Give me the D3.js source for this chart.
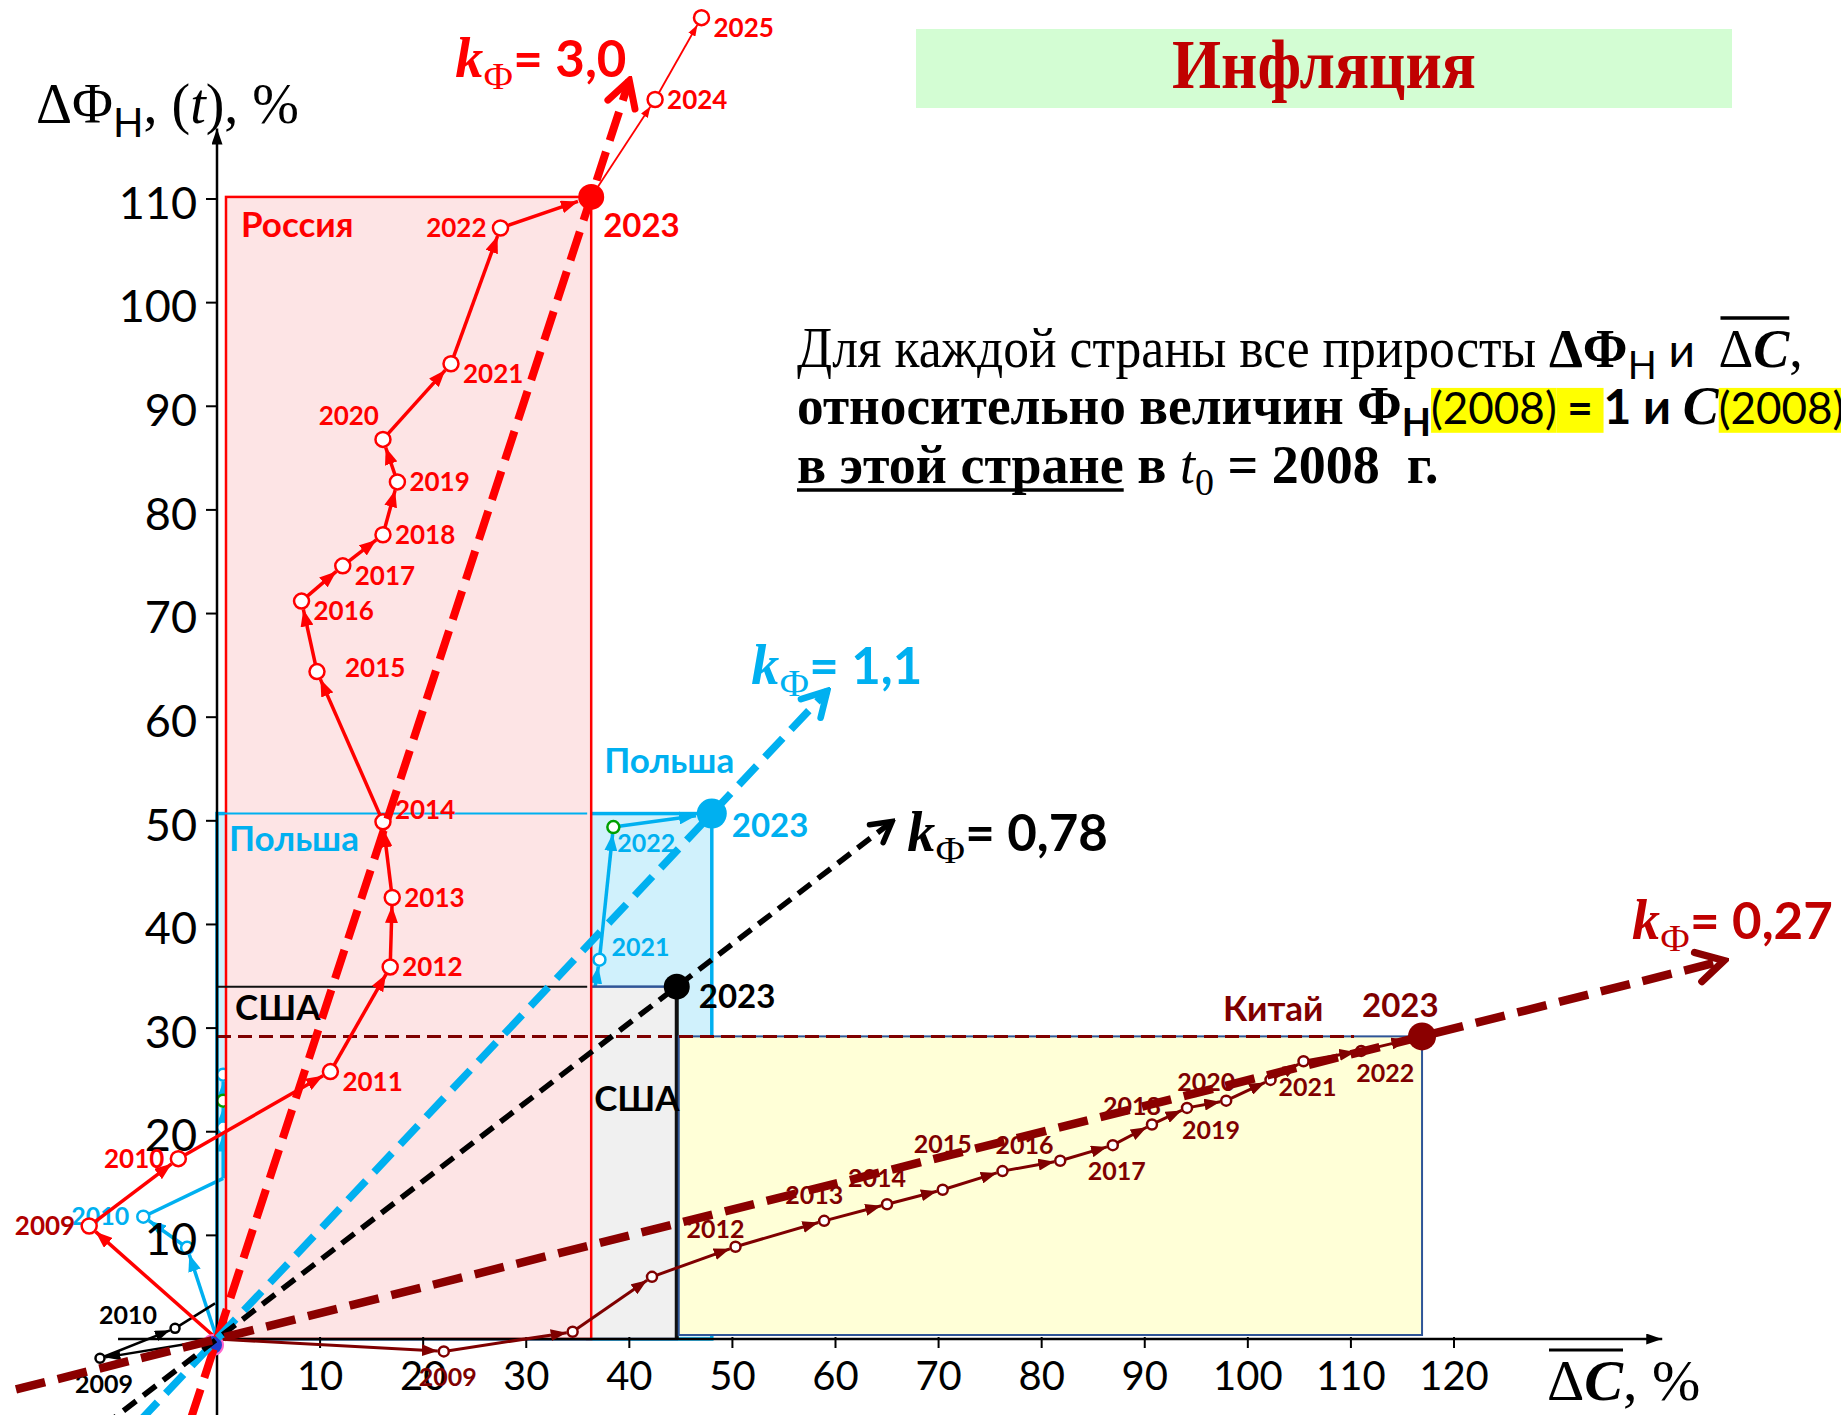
<!DOCTYPE html>
<html>
<head>
<meta charset="utf-8">
<script src="https://cdn.jsdelivr.net/npm/d3@7"></script>
<style>
html, body { margin: 0; padding: 0; background: #fff; }
svg { display: block; }
text { white-space: pre; }
</style>
</head>
<body>
<svg id="chart" width="1841" height="1415"></svg>
<script>
//========================
//   Data
//========================
var xTicks = [10, 20, 30, 40, 50, 60, 70, 80, 90, 100, 110, 120];
var yTicks = [10, 20, 30, 40, 50, 60, 70, 80, 90, 100, 110];

// Russia (null label = no marker, "" = marker without text)
var russiaLabels = [null, "2009", "2010", "2011", "2012", "2013", "2014", "2015", "2016", "2017", "2018", "2019", "2020", "2021", "2022", "2023", "2024", "2025"];
var russiaDC = [0, -12.4, -3.75, 11.0, 16.8, 17.0, 16.1, 9.7, 8.2, 12.2, 16.1, 17.5, 16.1, 22.7, 27.5, 36.3, 42.5, 47.0];
var russiaDF = [0, 10.9, 17.4, 25.8, 35.9, 42.6, 49.9, 64.4, 71.2, 74.6, 77.6, 82.7, 86.8, 94.1, 107.2, 110.2, 119.6, 127.5];

// Poland
var polandLabels = [null, "", "2010", null, "", "", "", null, "2021", "2022", "2023"];
var polandDC = [0, -2.9, -7.15, 0.6, 0.6, 0.6, 0.6, 36.2, 37.1, 38.45, 48.0];
var polandDF = [0, 8.8, 11.8, 15.5, 20.4, 23.0, 25.5, 31.0, 36.6, 49.4, 50.7];

// USA
var usLabels = [null, "2009", "2010", null, "2023"];
var usDC = [0, -11.35, -4.07, -0.19, 44.6];
var usDF = [0, -1.86, 1.03, 3.44, 34.0];

// China
var chinaLabels = [null, "2009", "", "", "2012", "2013", "2014", "2015", "2016", "", "2017", "2018", "2019", "2020", "", "2021", "2022", "2023"];
var chinaDC = [0, 22.0, 34.5, 42.2, 50.3, 58.9, 65.0, 70.4, 76.2, 81.8, 86.9, 90.7, 94.1, 97.9, 102.2, 105.4, 111.0, 116.9];
var chinaDF = [0, -1.2, 0.7, 6.0, 8.9, 11.4, 13.0, 14.4, 16.2, 17.2, 18.7, 20.7, 22.3, 23.0, 25.0, 26.8, 27.8, 29.2];

// k-factor labels and extent of the trend lines (in ΔC units)
var kLabels = ["= 3,0", "= 1,1", "= 0,78", "= 0,27"];
var russiaTrend = [-2.5, 40.0];
var polandTrend = [-7.5, 59.2];
var usTrend = [-11, 65.5];
var chinaTrend = [-19.5, 146.2];

//========================
//   Layout / styles
//========================
var russiaPlace = ["", "l", "l", "rb", "r", "r", "rt", "rr", "rb", "rb", "r", "r", "lt", "rb", "l", "c23r", "r", "rb"];
var polandPlace = ["", "", "l", "", "", "", "", "", "rt", "bs", "c23p"];
var usPlace = ["", "b", "lu", "", "c23u"];
var chinaPlace = ["", "b", "", "", "al", "a", "a", "aa", "ar", "", "b", "al", "br", "al", "", "b", "br", "c23c"];
var polandGreenIdx = [5, 9];
var russiaDarkIdx = [1];

//label offsets: [dx, dy(centre), anchor]
var place = {
  r: [12, 0, "start"], rb: [12, 10, "start"], rt: [12, -12, "start"], rr: [28, -4, "start"],
  l: [-14, 0, "end"], lt: [-4, -24, "end"], lu: [-18, -13, "end"],
  a: [-10, -26, "middle"], aa: [0, -46, "middle"], ar: [22, -26, "middle"], al: [-20, -18, "middle"],
  b: [4, 26, "middle"], br: [24, 22, "middle"], bs: [4, 16, "start"],
  c23r: [12, 29, "start"], c23p: [20, 12, "start"], c23u: [22, 10, "start"], c23c: [-60, -31, "start"]
};

var RED = "#ff0000", CYAN = "#00b0f0", BLACK = "#000000", MAROON = "#7f0000", KMAROON = "#8b0000";
var LABEL_FONT = "Lato, 'Open Sans', sans-serif";
var SERIF = "'Liberation Serif', 'Times New Roman', serif";

var svg = d3.select("#chart");
var defs = svg.append("defs");

//Scales
var x = d3.scaleLinear().domain([0, 120]).range([217, 1454]);
var y = d3.scaleLinear().domain([0, 110]).range([1339, 199]);

//========================
//   Markers
//========================
function triMarker(id, color, len, wid) {
  defs.append("marker").attr("id", id)
    .attr("viewBox", "0 0 10 10").attr("refX", 10).attr("refY", 5)
    .attr("markerUnits", "userSpaceOnUse")
    .attr("markerWidth", len).attr("markerHeight", wid)
    .attr("preserveAspectRatio", "none")
    .attr("orient", "auto")
    .append("path").attr("d", "M0,0 L10,5 L0,10 Z").attr("fill", color);
}
function chevMarker(id, color, size) {
  defs.append("marker").attr("id", id)
    .attr("viewBox", "0 0 12 12").attr("refX", 10.5).attr("refY", 6)
    .attr("markerUnits", "userSpaceOnUse")
    .attr("markerWidth", size).attr("markerHeight", size)
    .attr("orient", "auto")
    .append("path").attr("d", "M2.5,1.5 L10.5,6 L2.5,10.5")
    .attr("fill", "none").attr("stroke", color).attr("stroke-width", 2.2)
    .attr("stroke-linecap", "round").attr("stroke-linejoin", "miter");
}
triMarker("arrRed", RED, 17, 13);
triMarker("arrRedS", RED, 11, 8);
triMarker("arrCyan", CYAN, 17, 13);
triMarker("arrBlack", BLACK, 15, 11);
triMarker("arrMaroon", MAROON, 16, 12);
triMarker("axisArr", BLACK, 16, 11);
chevMarker("chRed", RED, 38);
chevMarker("chCyan", CYAN, 36);
chevMarker("chBlack", BLACK, 30);
chevMarker("chMaroon", KMAROON, 40);

//========================
//   Helpers
//========================
function series(dc, df, labels) {
  return dc.map(function (v, i) {
    return { dc: v, df: df[i], label: labels[i], px: x(v), py: y(df[i]) };
  });
}

//text made of several runs, laid out left to right
function runs(g, x0, y0, parts) {
  var cx = x0;
  parts.forEach(function (p) {
    var t = g.append("text")
      .attr("x", cx).attr("y", y0 + (p.dy || 0))
      .attr("font-family", p.font || SERIF)
      .attr("font-size", p.size)
      .attr("font-weight", p.bold ? "bold" : "normal")
      .attr("font-style", p.italic ? "italic" : "normal")
      .attr("fill", p.fill || "#000")
      .text(p.t);
    if (p.len) t.attr("textLength", p.len).attr("lengthAdjust", "spacingAndGlyphs");
    var w = p.len || t.node().getComputedTextLength();
    if (p.hl) {
      g.insert("rect", function () { return t.node(); })
        .attr("x", cx).attr("y", y0 - p.size * 0.82)
        .attr("width", w).attr("height", p.size * 1.02)
        .attr("fill", p.hl);
    }
    if (p.under) {
      g.append("line").attr("x1", cx).attr("x2", cx + w)
        .attr("y1", y0 + 7).attr("y2", y0 + 7)
        .attr("stroke", p.fill || "#000").attr("stroke-width", 3.5);
    }
    p.x0 = cx; p.w = w;
    cx += w;
  });
  return parts;
}
function overline(g, a, b, yy, w) {
  g.append("line").attr("x1", a.x0 + 2).attr("x2", b.x0 + b.w)
    .attr("y1", yy).attr("y2", yy).attr("stroke", "#000").attr("stroke-width", w);
}

function drawPath(g, pts, o) {
  var skip = o.skip || [];
  for (var i = 0; i < pts.length - 1; i++) {
    if (skip.indexOf(i) >= 0) continue;
    var a = pts[i], b = pts[i + 1];
    var dx = b.px - a.px, dy = b.py - a.py, len = Math.sqrt(dx * dx + dy * dy);
    var rEnd = b.label === null ? 0 : (b.label === "2023" ? o.bigR : o.r) + 1;
    var k = (len - rEnd) / len;
    var thin = o.thinAfter && +b.label > o.thinAfter;
    var seg = g.append("line")
      .attr("x1", a.px).attr("y1", a.py)
      .attr("x2", a.px + dx * k).attr("y2", a.py + dy * k)
      .attr("stroke", o.color)
      .attr("stroke-width", thin ? 1.8 : o.width);
    if (b.label !== null) seg.attr("marker-end", "url(#" + (thin ? o.markerThin : o.marker) + ")");
  }
  pts.forEach(function (p, i) {
    if (p.label === null || p.label === "2023") return;
    g.append("circle").attr("cx", p.px).attr("cy", p.py).attr("r", o.r)
      .attr("fill", "#fff")
      .attr("stroke", (o.green && o.green.indexOf(i) >= 0) ? "#00a000" : o.color)
      .attr("stroke-width", 2.5);
    if (p.label !== "") {
      var pl = place[o.place[i]];
      var dark = o.dark && o.dark.indexOf(i) >= 0;
      g.append("text")
        .attr("x", p.px + pl[0]).attr("y", p.py + pl[1] + o.fontSize * 0.35)
        .attr("text-anchor", pl[2])
        .attr("font-family", LABEL_FONT).attr("font-weight", "bold")
        .attr("font-size", o.fontSize).attr("fill", dark ? "#b00000" : (o.labelColor || o.color))
        .text(p.label);
    }
  });
}

function drawEnd(g, pts, o) {
  pts.forEach(function (p, i) {
    if (p.label !== "2023") return;
    g.append("circle").attr("cx", p.px).attr("cy", p.py).attr("r", o.bigR).attr("fill", o.color);
    var pl = place[o.place[i]];
    g.append("text")
      .attr("x", p.px + pl[0]).attr("y", p.py + pl[1] + 33 * 0.35)
      .attr("text-anchor", pl[2])
      .attr("font-family", LABEL_FONT).attr("font-weight", "bold")
      .attr("font-size", 33).attr("fill", o.labelColor || o.color)
      .text(p.label);
  });
}

function trend(g, slope, range, color, width, dash, marker) {
  g.append("line")
    .attr("x1", x(range[0])).attr("y1", y(range[0] * slope))
    .attr("x2", x(range[1])).attr("y2", y(range[1] * slope))
    .attr("stroke", color).attr("stroke-width", width)
    .attr("stroke-dasharray", dash)
    .attr("marker-end", "url(#" + marker + ")");
  return [x(range[1]), y(range[1] * slope)];
}

function kLabel(g, tip, off, text, color) {
  runs(g, tip[0] + off[0], tip[1] + off[1], [
    { t: "k", size: 56, bold: true, italic: true, fill: color },
    { t: "Ф", size: 38, dy: 12, fill: color },
    { t: text, size: 51, bold: true, font: LABEL_FONT, fill: color }
  ]);
}

var russia = series(russiaDC, russiaDF, russiaLabels);
var poland = series(polandDC, polandDF, polandLabels);
var usa = series(usDC, usDF, usLabels);
var china = series(chinaDC, chinaDF, chinaLabels);
var ru23 = russia[15], pl23 = poland[10], us23 = usa[4], cn23 = china[17];

//========================
//   Title and note
//========================
svg.append("rect").attr("x", 916).attr("y", 29).attr("width", 816).attr("height", 79).attr("fill", "#d3fdd3");
svg.append("text").attr("x", 1324).attr("y", 88).attr("text-anchor", "middle")
  .attr("font-family", SERIF).attr("font-weight", "bold").attr("font-size", 70)
  .attr("fill", "#c00000")
  .attr("textLength", 304).attr("lengthAdjust", "spacingAndGlyphs")
  .text("Инфляция");

var note = svg.append("g");
var l1 = runs(note, 797, 367, [
  { t: "Для каждой страны все приросты ", size: 56, len: 752 },
  { t: "ΔΦ", size: 54, bold: true },
  { t: "Н", size: 38, dy: 12, font: LABEL_FONT },
  { t: " и  ", size: 46, font: LABEL_FONT },
  { t: "Δ", size: 54 },
  { t: "C", size: 54, bold: true, italic: true },
  { t: ",", size: 54 }
]);
overline(note, l1[4], l1[5], 367 - 49, 3.5);
runs(note, 797, 424, [
  { t: "относительно величин ", size: 54, bold: true, len: 560 },
  { t: "Φ", size: 54, bold: true },
  { t: "Н", size: 38, dy: 12, font: LABEL_FONT, bold: true },
  { t: "(2008)", size: 44, font: LABEL_FONT, hl: "#ffff00" },
  { t: " = ", size: 44, font: LABEL_FONT, bold: true, hl: "#ffff00" },
  { t: "1 и ", size: 48, font: LABEL_FONT, bold: true },
  { t: "C", size: 54, bold: true, italic: true },
  { t: "(2008)", size: 44, font: LABEL_FONT, hl: "#ffff00" }
]);
runs(note, 797, 483, [
  { t: "в этой стране", size: 54, bold: true, under: true },
  { t: " в ", size: 54, bold: true },
  { t: "t", size: 54, italic: true },
  { t: "0", size: 38, dy: 12 },
  { t: " = 2008  г.", size: 54, bold: true }
]);

//========================
//   Country boxes
//========================
var boxes = svg.append("g");
// Poland
boxes.append("rect").attr("x", x(0)).attr("y", pl23.py)
  .attr("width", pl23.px - x(0)).attr("height", y(0) - pl23.py)
  .attr("fill", "#d0f1fc").attr("stroke", CYAN).attr("stroke-width", 3.5);

var pathsUnder = svg.append("g");
drawPath(pathsUnder, poland, { color: CYAN, width: 3.5, r: 6, bigR: 15, marker: "arrCyan", place: polandPlace, fontSize: 25, green: polandGreenIdx });

// USA
boxes = svg.append("g");
boxes.append("rect").attr("x", ru23.px - 4).attr("y", us23.py)
  .attr("width", us23.px - ru23.px + 4).attr("height", y(0) - us23.py)
  .attr("fill", "#f0f0f0").attr("stroke", "#2f5597").attr("stroke-width", 2.5);
boxes.append("line").attr("x1", us23.px).attr("x2", us23.px).attr("y1", us23.py).attr("y2", y(0))
  .attr("stroke", "#111").attr("stroke-width", 4);
// China
boxes.append("rect").attr("x", us23.px + 2).attr("y", cn23.py)
  .attr("width", cn23.px - us23.px - 2).attr("height", y(0) - cn23.py - 4)
  .attr("fill", "#ffffd7").attr("stroke", "#2f5597").attr("stroke-width", 2);
// Russia
boxes.append("rect").attr("x", x(0) + 9).attr("y", ru23.py)
  .attr("width", ru23.px - x(0) - 9).attr("height", y(0) - ru23.py)
  .attr("fill", "#fde4e5").attr("stroke", RED).attr("stroke-width", 2.5);
// Tops of Poland and USA boxes, seen through
boxes.append("line").attr("x1", x(0)).attr("x2", ru23.px - 4).attr("y1", pl23.py).attr("y2", pl23.py)
  .attr("stroke", CYAN).attr("stroke-width", 2);
boxes.append("line").attr("x1", x(0)).attr("x2", ru23.px - 4).attr("y1", us23.py).attr("y2", us23.py)
  .attr("stroke", "#111").attr("stroke-width", 2);
// China level
boxes.append("line").attr("x1", x(0)).attr("x2", x(110.3)).attr("y1", cn23.py).attr("y2", cn23.py)
  .attr("stroke", MAROON).attr("stroke-width", 3).attr("stroke-dasharray", "14 7");

//Country names
function name(g, px, py, t, color, size) {
  g.append("text").attr("x", px).attr("y", py)
    .attr("font-family", LABEL_FONT).attr("font-weight", "bold")
    .attr("font-size", size || 35).attr("fill", color).text(t);
}
name(boxes, x(0) + 24, ru23.py + 40, "Россия", RED);
name(boxes, x(0) + 12, pl23.py + 37, "Польша", CYAN);
name(boxes, ru23.px + 13, pl23.py - 41, "Польша", CYAN);
name(boxes, x(0) + 18, us23.py + 33, "США", BLACK);
name(boxes, ru23.px + 3, us23.py + 124, "США", BLACK);
name(boxes, cn23.px - 199, cn23.py - 15, "Китай", MAROON);

//========================
//   Axes
//========================
var axes = svg.append("g");
axes.append("line").attr("x1", x(0)).attr("x2", x(0)).attr("y1", y(-8)).attr("y2", y(116.8))
  .attr("stroke", BLACK).attr("stroke-width", 2.5).attr("marker-end", "url(#axisArr)");
axes.append("line").attr("x1", x(-9.6)).attr("x2", x(140.2)).attr("y1", y(0)).attr("y2", y(0))
  .attr("stroke", BLACK).attr("stroke-width", 2.5).attr("marker-end", "url(#axisArr)");

axes.selectAll(".yt").data(yTicks).enter().append("line")
  .attr("x1", x(0) - 11).attr("x2", x(0)).attr("y1", function (d) { return y(d); }).attr("y2", function (d) { return y(d); })
  .attr("stroke", BLACK).attr("stroke-width", 2);
axes.selectAll(".ytl").data(yTicks).enter().append("text")
  .attr("x", x(0) - 20).attr("y", function (d) { return y(d) + 4 + 45 * 0.35; })
  .attr("text-anchor", "end").attr("font-family", LABEL_FONT).attr("font-size", 45)
  .text(function (d) { return d; });
axes.selectAll(".xt").data(xTicks).enter().append("line")
  .attr("x1", function (d) { return x(d); }).attr("x2", function (d) { return x(d); })
  .attr("y1", y(0) - 2).attr("y2", y(0) + 9)
  .attr("stroke", BLACK).attr("stroke-width", 2);
axes.selectAll(".xtl").data(xTicks).enter().append("text")
  .attr("x", function (d) { return x(d); }).attr("y", y(0) + 51)
  .attr("text-anchor", "middle").attr("font-family", LABEL_FONT).attr("font-size", 40)
  .text(function (d) { return d; });

//Axis titles
runs(axes, 36, 123, [
  { t: "ΔΦ", size: 56 },
  { t: "Н", size: 40, dy: 14, font: LABEL_FONT },
  { t: ", (", size: 56 },
  { t: "t", size: 56, italic: true },
  { t: "), %", size: 56 }
]);
var xt = runs(axes, 1547, 1400, [
  { t: "Δ", size: 58 },
  { t: "C", size: 58, bold: true, italic: true },
  { t: ", %", size: 58 }
]);
overline(axes, xt[0], xt[1], 1350, 3);

//========================
//   Paths
//========================
var paths = svg.append("g");
drawPath(paths, usa, { color: BLACK, width: 2.5, r: 4.5, bigR: 13, marker: "arrBlack", place: usPlace, fontSize: 25, skip: [3] });
drawPath(paths, china, { color: MAROON, width: 3, r: 5, bigR: 14, marker: "arrMaroon", place: chinaPlace, fontSize: 25 });
drawPath(paths, russia, { color: RED, width: 3.5, r: 7.5, bigR: 13, marker: "arrRed", markerThin: "arrRedS", thinAfter: 2023, place: russiaPlace, fontSize: 26, dark: russiaDarkIdx });

//origin
paths.append("circle").attr("cx", x(0) - 4).attr("cy", y(0) + 6).attr("r", 10)
  .attr("fill", "#1f3fd0").attr("stroke", "#ff66cc").attr("stroke-width", 2);

//========================
//   Trend lines
//========================
var trends = svg.append("g");
var tipRu = trend(trends, ru23.df / ru23.dc, russiaTrend, RED, 8, "30 12", "chRed");
var tipPl = trend(trends, pl23.df / pl23.dc, polandTrend, CYAN, 7.5, "26 12", "chCyan");
var tipUs = trend(trends, us23.df / us23.dc, usTrend, BLACK, 5.5, "16 9", "chBlack");
var tipCn = trend(trends, cn23.df / cn23.dc, chinaTrend, KMAROON, 8.5, "30 13", "chMaroon");

drawEnd(trends, russia, { color: RED, bigR: 13, place: russiaPlace });
drawEnd(trends, poland, { color: CYAN, bigR: 15, place: polandPlace });
drawEnd(trends, usa, { color: BLACK, bigR: 13, place: usPlace });
drawEnd(trends, china, { color: "#8b0000", labelColor: MAROON, bigR: 14, place: chinaPlace });

kLabel(trends, tipRu, [-174, -4], kLabels[0], RED);
kLabel(trends, tipPl, [-76, -7], kLabels[1], CYAN);
kLabel(trends, tipUs, [15, 29], kLabels[2], BLACK);
kLabel(trends, tipCn, [-92, -22], kLabels[3], "#c00000");
</script>
</body>
</html>
